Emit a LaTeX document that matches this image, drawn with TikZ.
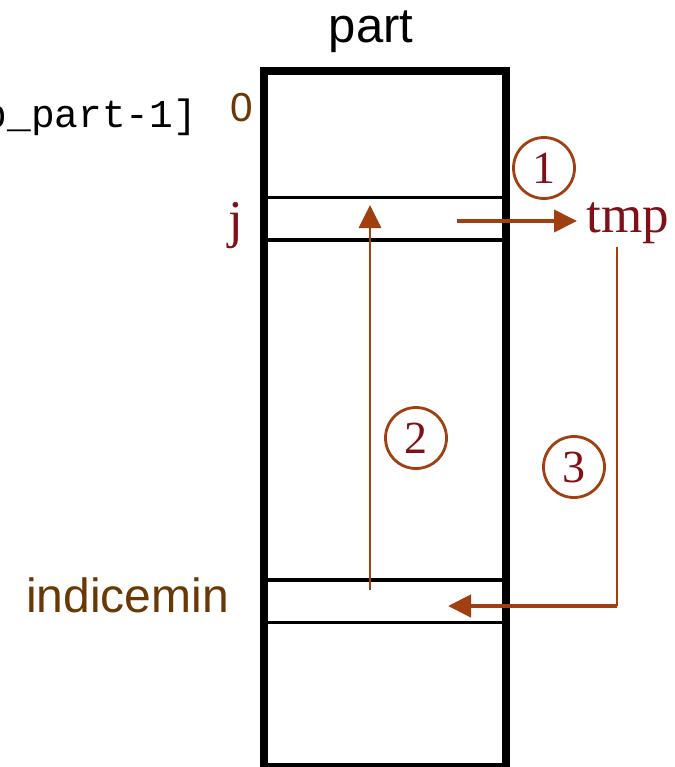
\documentclass[tikz,border=0pt]{standalone}
\usepackage{fontspec}
\setmainfont{Liberation Sans}
\newfontfamily\timesfont{Liberation Serif}
\newfontfamily\courierfont{Liberation Mono}
\usetikzlibrary{arrows.meta}
\definecolor{arrowbrown}{RGB}{160,64,16}
\definecolor{labelbrown}{RGB}{106,56,4}
\definecolor{darkred}{RGB}{128,16,24}
\begin{document}
\begin{tikzpicture}[x=0.5pt,y=-0.5pt,
  cell/.style={draw, line width=1.75pt, minimum width=121pt, minimum height=21.25pt, inner sep=0pt},
  circnum/.style={circle, draw=arrowbrown, line width=1.4pt, minimum size=30.5pt, inner sep=0pt, text=darkred, font=\timesfont\fontsize{23}{24}\selectfont},
  flow/.style={draw=arrowbrown, -{Triangle[length=11.5pt,width=11pt]}}]
\useasboundingbox (0,0) rectangle (675,767);
\node[draw, line width=4pt, minimum width=121pt, minimum height=348pt, inner sep=0pt] (tab) at (385,419) {};
\node[cell] (jcell) at (385,218.75) {};
\node[cell] (mincell) at (385,601) {};

\node[anchor=base, inner sep=0pt, font=\fontsize{24.5}{28}\selectfont] (title) at (371,42) {part};
\node[anchor=base west, inner sep=0pt, font=\courierfont\fontsize{19.75}{22}\selectfont] (range) at (-16.7,127) {p\_part-1]};
\node[anchor=base, inner sep=0pt, text=labelbrown, font=\fontsize{20.25}{22}\selectfont] (zero) at (242,121) {0};
\node[anchor=base, inner sep=0pt, text=darkred, font=\timesfont\fontsize{26.5}{28}\selectfont] (j) at (236,237) {j};
\node[anchor=base west, inner sep=4.5pt, text=darkred, font=\timesfont\fontsize{26.5}{28}\selectfont] (tmp) at (577,232) {tmp};
\node[anchor=base, inner sep=0pt, text=labelbrown, font=\fontsize{24}{28}\selectfont] (imin) at (127.5,612) {indicemin};

\node[circnum] (c1) at (544,168) {1};
\node[circnum] (c2) at (416,438) {2};
\node[circnum] (c3) at (574,467) {3};

\coordinate (s1) at (457,221);
\coordinate (s2) at (370,590);
\coordinate (t2) at (370,205);
\coordinate (s3) at (617,247);
\coordinate (k3) at (617,606);
\coordinate (t3) at (448,606);

\path[flow, line width=2pt] (s1) -- (s1 -| tmp.west);
\path[flow, line width=1.4pt] (s2) -- (t2);
\path[draw=arrowbrown, line width=1.2pt] (s3) -- (k3);
\path[flow, line width=2.2pt] (k3) -- (t3);
\end{tikzpicture}
\end{document}
